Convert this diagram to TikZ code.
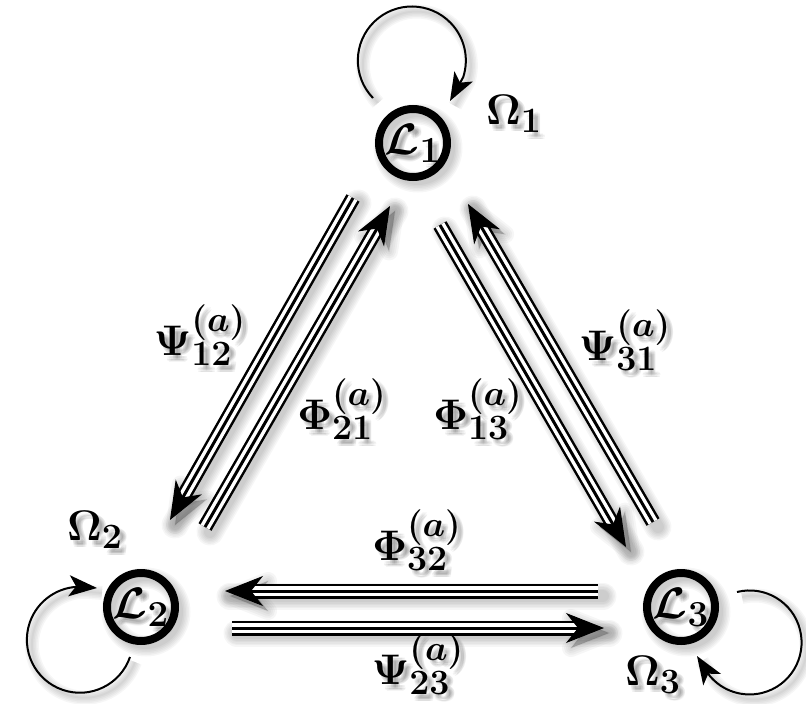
\documentclass[tikz,border=0pt]{standalone}
\usepackage{graphicx}
\usetikzlibrary{arrows.meta,calc}
\newcommand\labtxt[1]{\scalebox{1.72}{\Huge\boldmath #1}}
\newcommand\statetxt[1]{\scalebox{1.77}{\Huge\boldmath #1}}
\begin{document}
\begin{tikzpicture}[x=1pt,y=-1pt,
  lab/.style={inner sep=0pt},
  state/.style={circle, draw, line width=8pt, minimum size=68pt, inner sep=0pt},
  triple/.style={draw=black, line width=15pt,
     postaction={draw=white, line width=10pt},
     postaction={draw=black, line width=3pt}},
  bigtip/.style={draw=black, line width=1pt, -{Stealth[length=38pt,width=30pt,inset=12pt]}},
  looparrow/.style={draw=black, line width=2pt, -{Stealth[length=28pt,width=21pt,inset=7pt]}},
  sh/.style={draw=black, draw opacity=0.035, line cap=round, transform canvas={shift={(5,5)}}},
  shtext/.style={lab, text opacity=0.045}]
\useasboundingbox (0,0) rectangle (806,704);
% connector end points
\coordinate (a12s) at (353,198); \coordinate (a12t) at (170,520);
\coordinate (a21s) at (205,527); \coordinate (a21t) at (390,206);
\coordinate (a13s) at (440,225); \coordinate (a13t) at (626,547);
\coordinate (a31s) at (653,522); \coordinate (a31t) at (468,204);
\coordinate (a32s) at (598,591); \coordinate (a32t) at (225,591);
\coordinate (a23s) at (232,628); \coordinate (a23t) at (604,628);
\def\connlist{a12s/a12t,a21s/a21t,a13s/a13t,a31s/a31t,a32s/a32t,a23s/a23t}
\def\statelist{L1/{(413,143)}/{$\mathcal{L}_1$},L2/{(141,607)}/{$\mathcal{L}_2$},L3/{(681,607)}/{$\mathcal{L}_3$}}
\def\labellist{O1/{(514,114)}/{$\Omega_1$},O2/{(95,530)}/{$\Omega_2$},O3/{(653,675)}/{$\Omega_3$},%
P12/{(200,335)}/{$\Psi^{(a)}_{12}$},F21/{(342,409)}/{$\Phi^{(a)}_{21}$},F13/{(478,409)}/{$\Phi^{(a)}_{13}$},%
P31/{(625,340)}/{$\Psi^{(a)}_{31}$},F32/{(417,540)}/{$\Phi^{(a)}_{32}$},P23/{(418,664)}/{$\Psi^{(a)}_{23}$}}
% ---------- soft shadows ----------
\foreach \s/\t in \connlist {
  \foreach \k in {0,...,5} { \path[sh, line width=12+3*\k] (\s) -- (\t); }
  \foreach \k in {0,...,4} { \path[sh, fill=black, fill opacity=0.05, line width=2+4*\k, line join=round]
      (\t) -- ($(\t)!38pt!(\s)!15pt!90:(\s)$) -- ($(\t)!26pt!(\s)$) -- ($(\t)!38pt!(\s)!15pt!-90:(\s)$) -- cycle; }
}
\foreach \n/\p/\t in \statelist {
  \foreach \k in {0,...,5} { \path[sh, line width=6+3*\k] \p circle[radius=34]; }
  \foreach \dx/\dy [count=\i] in {0/0,-2/0,2/0,0/-2,0/2,-1.5/-1.5,1.5/1.5,-1.5/1.5,1.5/-1.5}
    { \node[shtext, shift={(5+\dx,5+\dy)}] (\n-sh\i) at \p {\statetxt{\t}}; }
}
\begin{scope}[transform canvas={shift={(5,5)}}]
\foreach \k in {0,...,4} {
  \draw[draw=black, draw opacity=0.035, line width=2+3*\k] (373,98) arc[start angle=136, end angle=378, radius=54] -- (450,101);
  \draw[draw=black, draw opacity=0.035, line width=2+3*\k] (130,657) arc[start angle=19, end angle=272, radius=53] -- (97,588);
  \draw[draw=black, draw opacity=0.035, line width=2+3*\k] (737,592) arc[start angle=-104, end angle=140, radius=52] -- (697,656);
}
\end{scope}
\foreach \n/\p/\t in \labellist {
  \foreach \dx/\dy [count=\i] in {0/0,-2/0,2/0,0/-2,0/2,-1.5/-1.5,1.5/1.5,-1.5/1.5,1.5/-1.5}
    { \node[shtext, shift={(5+\dx,5+\dy)}] (\n-sh\i) at \p {\labtxt{\t}}; }
}
% ---------- states ----------
\foreach \n/\p/\t in \statelist { \node[state] (\n) at \p {\statetxt{\t}}; }
% ---------- triple connectors ----------
\foreach \s/\t in \connlist {
  \path[triple] (\s) -- ($(\t)!20pt!(\s)$);
  \draw[bigtip] ($(\t)!30pt!(\s)$) -- (\t);
}
% ---------- self loops ----------
\draw[looparrow] (373,98) arc[start angle=136, end angle=378, radius=54] -- (450,101);
\draw[looparrow] (130,657) arc[start angle=19, end angle=272, radius=53] -- (97,588);
\draw[looparrow] (737,592) arc[start angle=-104, end angle=140, radius=52] -- (697,656);
% ---------- labels ----------
\foreach \n/\p/\t in \labellist { \node[lab] (\n) at \p {\labtxt{\t}}; }
\end{tikzpicture}
\end{document}
